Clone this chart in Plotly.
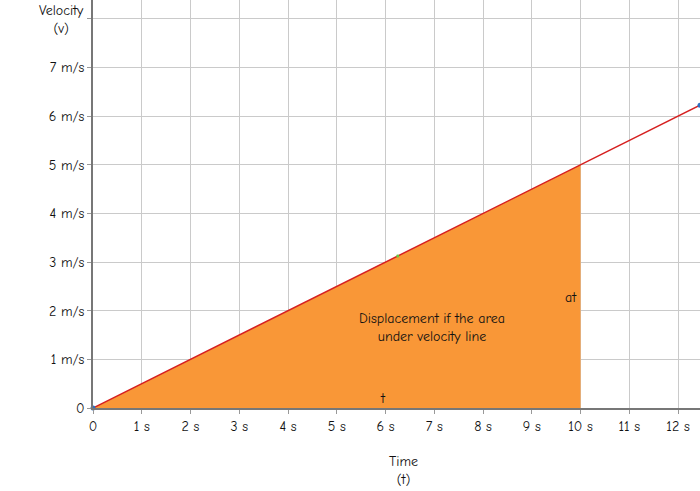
import plotly.graph_objects as go

# velocity line v = a*t with a = 0.5 m/s^2
line_t = [0, 12.45]
line_v = [0, 6.225]
area_t = [0, 10, 10, 0]
area_v = [0, 5, 0, 0]
point_t = [0, 12.45]
point_v = [0, 6.225]
mid_t = [6.25]
mid_v = [3.125]

x_ticks = list(range(0, 13))
x_labels = ["0"] + [f"{i} s" for i in range(1, 13)]
y_ticks = list(range(0, 9))
y_labels = ["0"] + [f"{i} m/s" for i in range(1, 8)] + [""]

FONT = "Comic Sans MS, Comic Neue, Noto Sans, DejaVu Sans, sans-serif"

fig = go.Figure()
fig.add_trace(go.Scatter(x=area_t, y=area_v, fill="toself", fillcolor="#F99737",
                         line=dict(width=0), mode="lines", hoverinfo="skip"))
fig.add_trace(go.Scatter(x=line_t, y=line_v, mode="lines",
                         line=dict(color="#D62020", width=1.5)))
fig.add_trace(go.Scatter(x=point_t, y=point_v, mode="markers",
                         marker=dict(color="#2E6FC0", size=5), cliponaxis=False))
fig.add_trace(go.Scatter(x=mid_t, y=mid_v, mode="markers",
                         marker=dict(color="#66CC44", size=3)))

fig.add_annotation(x=6.95, y=1.65, text="Displacement if the area<br>under velocity line",
                   showarrow=False, font=dict(size=14, color="#111"))
fig.add_annotation(x=9.8, y=2.28, text="at", showarrow=False, font=dict(size=14, color="#111"))
fig.add_annotation(x=5.95, y=0.2, text="t", showarrow=False, font=dict(size=14, color="#111"))

fig.add_annotation(x=0.512, y=-0.152, xref="paper", yref="paper", yanchor="middle",
                   text="Time<br>(t)", showarrow=False, font=dict(size=14, color="#111"))
fig.add_annotation(x=-0.092, y=0.952, xref="paper", yref="paper", yanchor="middle",
                   text="Velocity<br>(v)", showarrow=False, font=dict(size=14, color="#111"))

fig.update_layout(
    width=700, height=491,
    margin=dict(l=93, r=0, t=0, b=83),
    paper_bgcolor="white", plot_bgcolor="white",
    showlegend=False,
    font=dict(family=FONT, size=14, color="#111"),
    xaxis=dict(range=[0, 12.45], tickvals=x_ticks, ticktext=x_labels,
               showgrid=True, gridcolor="#CACACA", gridwidth=1,
               zeroline=False, showline=True, linecolor="#777", linewidth=1.5,
               ticks="outside", ticklen=4, tickcolor="#999", fixedrange=True),
    yaxis=dict(range=[0, 8.39], tickvals=y_ticks, ticktext=y_labels,
               showgrid=True, gridcolor="#CACACA", gridwidth=1,
               zeroline=False, showline=True, linecolor="#777", linewidth=1.5,
               ticks="outside", ticklen=4, tickcolor="#999", fixedrange=True),
)

fig.write_html("out.html", config={"displayModeBar": False},
               post_script="document.body.style.margin='0';")
